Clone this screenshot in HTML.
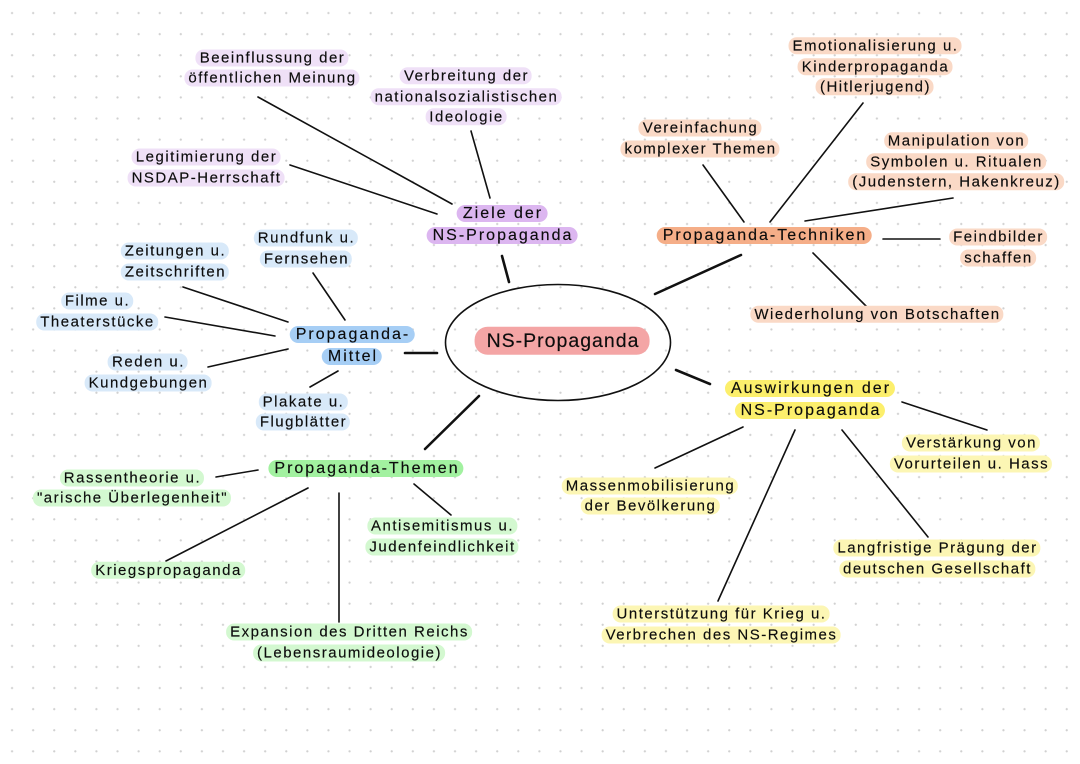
<!DOCTYPE html>
<html>
<head>
<meta charset="utf-8">
<style>
html,body{margin:0;padding:0;}
body{width:1080px;height:764px;position:relative;overflow:hidden;background-color:#fff;
background-image:radial-gradient(circle, #d0d0d0 0.9px, rgba(255,255,255,0) 1.3px);
background-size:21.1px 21.1px;background-position:1.5px 2.5px;
font-family:"Liberation Sans",sans-serif;color:#0c0c0c;}
svg{position:absolute;left:0;top:0;}
.n{position:absolute;transform:translate(-50%,-50%);text-align:center;white-space:nowrap;font-size:15px;letter-spacing:1.5px;line-height:20.5px;-webkit-text-stroke:0.15px #0c0c0c;}
.n div{display:block;}
.n span{padding:0 3px 0 4px;border-radius:8px;}
.m{font-size:16px;letter-spacing:2px;line-height:22px;}
.m span{padding:0 4px 0 6px;border-radius:9px;}
.pu span{background:#efe0f7;}
.pu.m span{background:#dcb6f0;}
.bl span{background:#d8e9f9;}
.bl.m span{background:#a6cef5;}
.gr span{background:#d3f8d0;}
.gr.m span{background:#a2f1a0;}
.or span{background:#fad9c6;}
.or.m span{background:#f5ae88;}
.ye span{background:#fcf6b4;}
.ye.m span{background:#fcef6c;}
.c{font-size:19.5px;letter-spacing:1px;}
.c span{background:#f4a5a5;padding:3px 10px 3px 12px;border-radius:13px;}
</style>
</head>
<body>
<svg width="1080" height="764" viewBox="0 0 1080 764">
<g stroke="#111" fill="none" stroke-linecap="round">
<ellipse cx="558" cy="342.5" rx="112.5" ry="58" stroke-width="1.6"/>
<g stroke-width="2.6">
<line x1="509" y1="282" x2="502" y2="256"/>
<line x1="405" y1="353" x2="437" y2="353"/>
<line x1="479" y1="396" x2="425" y2="449"/>
<line x1="655" y1="294" x2="741" y2="255"/>
<line x1="676" y1="370" x2="710" y2="384"/>
</g>
<g stroke-width="1.6">
<line x1="258" y1="97" x2="452" y2="204"/>
<line x1="290" y1="165" x2="437" y2="214"/>
<line x1="471" y1="131" x2="490" y2="198"/>
<line x1="183" y1="287" x2="288" y2="322"/>
<line x1="313" y1="273" x2="345" y2="320"/>
<line x1="165" y1="317" x2="275" y2="336"/>
<line x1="208" y1="367" x2="288" y2="349"/>
<line x1="310" y1="387" x2="338" y2="371"/>
<line x1="216" y1="477" x2="258" y2="470"/>
<line x1="166" y1="561" x2="308" y2="488"/>
<line x1="339" y1="493" x2="339" y2="622"/>
<line x1="414" y1="484" x2="451" y2="515"/>
<line x1="703" y1="165" x2="744" y2="222"/>
<line x1="863" y1="103" x2="770" y2="222"/>
<line x1="953" y1="198" x2="805" y2="221"/>
<line x1="883" y1="239" x2="940" y2="239"/>
<line x1="813" y1="253" x2="867" y2="307"/>
<line x1="743" y1="427" x2="655" y2="468"/>
<line x1="795" y1="430" x2="718" y2="601"/>
<line x1="842" y1="430" x2="928" y2="537"/>
<line x1="902" y1="402" x2="987" y2="430"/>
</g>
</g>
</svg>

<div class="n c" style="left:562px;top:341px;"><div><span>NS-Propaganda</span></div></div>

<div class="n m pu" style="left:502px;top:225px;"><div><span>Ziele der</span></div><div><span>NS-Propaganda</span></div></div>
<div class="n pu" style="left:272px;top:68.5px;"><div><span>Beeinflussung der</span></div><div><span>öffentlichen Meinung</span></div></div>
<div class="n pu" style="left:466px;top:97px;"><div><span>Verbreitung der</span></div><div><span>nationalsozialistischen</span></div><div><span>Ideologie</span></div></div>
<div class="n pu" style="left:206px;top:168px;"><div><span>Legitimierung der</span></div><div><span>NSDAP-Herrschaft</span></div></div>

<div class="n m bl" style="left:352px;top:345.5px;"><div><span>Propaganda-</span></div><div><span>Mittel</span></div></div>
<div class="n bl" style="left:175px;top:262px;"><div><span>Zeitungen u.</span></div><div><span>Zeitschriften</span></div></div>
<div class="n bl" style="left:306px;top:249px;"><div><span>Rundfunk u.</span></div><div><span>Fernsehen</span></div></div>
<div class="n bl" style="left:97px;top:312px;"><div><span>Filme u.</span></div><div><span>Theaterstücke</span></div></div>
<div class="n bl" style="left:148px;top:373px;"><div><span>Reden u.</span></div><div><span>Kundgebungen</span></div></div>
<div class="n bl" style="left:303px;top:412.5px;"><div><span>Plakate u.</span></div><div><span>Flugblätter</span></div></div>

<div class="n m gr" style="left:366px;top:469px;"><div><span>Propaganda-Themen</span></div></div>
<div class="n gr" style="left:132px;top:488.5px;"><div><span>Rassentheorie u.</span></div><div><span>"arische Überlegenheit"</span></div></div>
<div class="n gr" style="left:168px;top:571px;"><div><span>Kriegspropaganda</span></div></div>
<div class="n gr" style="left:349px;top:643px;"><div><span>Expansion des Dritten Reichs</span></div><div><span>(Lebensraumideologie)</span></div></div>
<div class="n gr" style="left:442px;top:537px;"><div><span>Antisemitismus u.</span></div><div><span>Judenfeindlichkeit</span></div></div>

<div class="n m or" style="left:764px;top:236px;"><div><span>Propaganda-Techniken</span></div></div>
<div class="n or" style="left:700px;top:139px;"><div><span>Vereinfachung</span></div><div><span>komplexer Themen</span></div></div>
<div class="n or" style="left:875px;top:67px;"><div><span>Emotionalisierung u.</span></div><div><span>Kinderpropaganda</span></div><div><span>(Hitlerjugend)</span></div></div>
<div class="n or" style="left:956px;top:162px;"><div><span>Manipulation von</span></div><div><span>Symbolen u. Ritualen</span></div><div><span>(Judenstern, Hakenkreuz)</span></div></div>
<div class="n or" style="left:998px;top:248px;"><div><span>Feindbilder</span></div><div><span>schaffen</span></div></div>
<div class="n or" style="left:877px;top:315px;"><div><span>Wiederholung von Botschaften</span></div></div>

<div class="n m ye" style="left:810px;top:400px;"><div><span>Auswirkungen der</span></div><div><span>NS-Propaganda</span></div></div>
<div class="n ye" style="left:971px;top:454px;"><div><span>Verstärkung von</span></div><div><span>Vorurteilen u. Hass</span></div></div>
<div class="n ye" style="left:650px;top:496.5px;"><div><span>Massenmobilisierung</span></div><div><span>der Bevölkerung</span></div></div>
<div class="n ye" style="left:937px;top:559px;"><div><span>Langfristige Prägung der</span></div><div><span>deutschen Gesellschaft</span></div></div>
<div class="n ye" style="left:721px;top:625px;"><div><span>Unterstützung für Krieg u.</span></div><div><span>Verbrechen des NS-Regimes</span></div></div>
</body>
</html>
